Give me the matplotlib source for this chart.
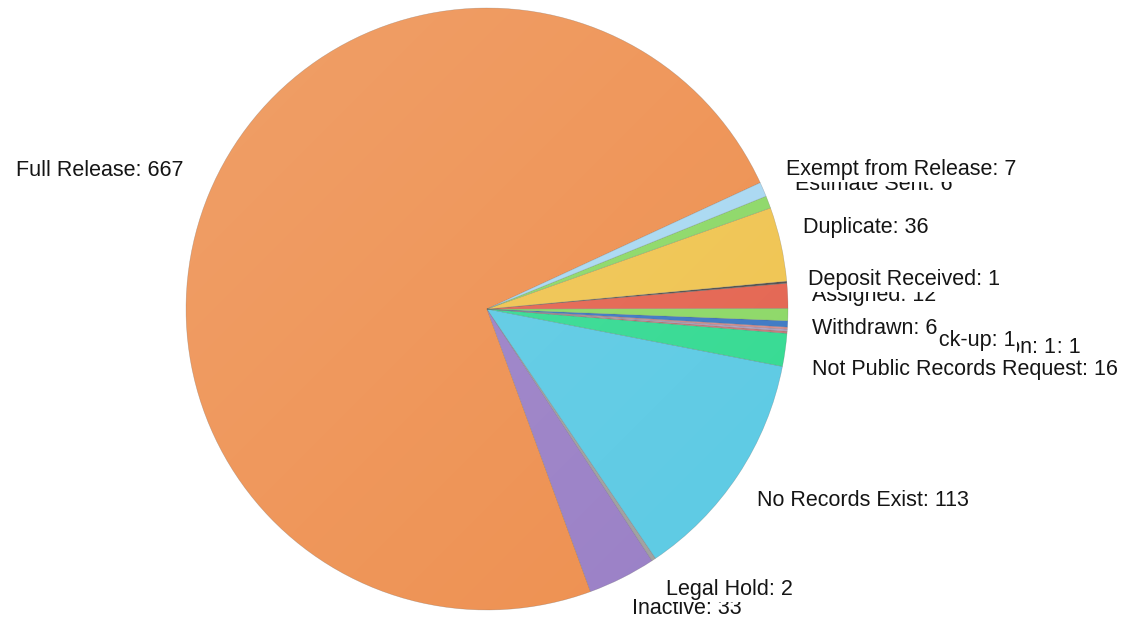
import numpy as np
import matplotlib
matplotlib.use("Agg")
import matplotlib.pyplot as plt

# slices in counter-clockwise order, starting at the upper-right edge of "Full Release"
categories = ["Full Release", "Inactive", "Legal Hold", "No Records Exist",
              "Not Public Records Request", "Forwarded to Department",
              "Waiting for Clarification", "Waiting for Pick-up",
              "Waiting for Payment", "Withdrawn", "Assigned", "Deposit Received",
              "Duplicate", "Estimate Sent", "Exempt from Release"]
counts = [667, 33, 2, 113, 16, 1, 1, 1, 3, 6, 12, 1, 36, 6, 7]
colors = ["#EE9050", "#9A80C6", "#A0A0A0", "#5CCAE4", "#34DA92", "#C87878",
          "#B0A0C0", "#D88C8C", "#3C78C4", "#8CD866", "#E46450", "#505050",
          "#F0C450", "#8CD866", "#A8D8F2"]

# label anchor (image pixels: x, y-center, align), drawn in this order (later on top)
label_pos = {
    "Full Release": (184, 171, "right"),
    "Estimate Sent": (795, 184, "left"),
    "Exempt from Release": (786, 170, "left"),
    "Duplicate": (803, 228, "left"),
    "Assigned": (812, 295, "left"),
    "Deposit Received": (808, 280, "left"),
    "Waiting for Payment": (812, 352, "left"),
    "Forwarded to Department": (812, 348, "left"),
    "Waiting for Clarification": (812, 348, "left"),
    "Waiting for Pick-up": (812, 340, "left"),
    "Withdrawn": (812, 328, "left"),
    "Not Public Records Request": (812, 370, "left"),
    "No Records Exist": (757, 501, "left"),
    "Inactive": (632, 609, "left"),
    "Legal Hold": (666, 590, "left"),
}
# labels whose white box reaches further down (they hide the labels under them)
tall_box = ["Withdrawn", "Waiting for Pick-up"]

W, H = 1134, 626
fig = plt.figure(figsize=(W / 100, H / 100), dpi=100)
ax = fig.add_axes([0, 0, 1, 1])

cx, cy, r = 487, H - 309, 301
wedges, _ = ax.pie(counts, colors=colors, startangle=24.8, counterclock=True,
                   center=(cx, cy), radius=r, frame=True,
                   wedgeprops=dict(linewidth=0.4, edgecolor=(0.3, 0.3, 0.3, 0.3)))
ax.set_xlim(0, W)
ax.set_ylim(0, H)
ax.set_aspect("equal")
ax.axis("off")

# soft light from the upper left, like the original rendering
yy, xx = np.mgrid[0:H, 0:W]
shade = 1 - ((xx - (cx - r)) + (yy - (H - cy - r))) / (4.0 * r)
shade = np.clip(shade, 0, 1)
rgba = np.ones((H, W, 4))
rgba[..., 3] = 0.14 * shade
img = ax.imshow(rgba, extent=(0, W, 0, H), origin="upper", zorder=3)
img.set_clip_path(plt.Circle((cx, cy), r, transform=ax.transData))
ax.set_xlim(0, W)
ax.set_ylim(0, H)

for z, name in enumerate(label_pos):
    x, y, ha = label_pos[name]
    val = counts[categories.index(name)]
    txt = f"{name}: {val}"
    va = "center"
    if name in tall_box:
        txt = txt + "\n "
        y = y - 10
        va = "top"
    ax.text(x, H - y, txt, ha=ha, va=va, fontsize=15.5, linespacing=1.0,
            family="Liberation Sans", color="#151515", zorder=10 + z,
            bbox=dict(facecolor="white", edgecolor="none", pad=1.0))

fig.savefig("out.png", dpi=100)
